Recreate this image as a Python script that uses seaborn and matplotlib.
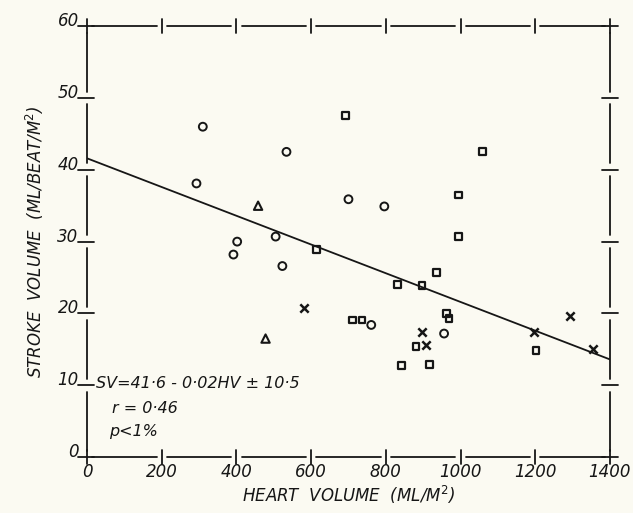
import matplotlib
matplotlib.use("Agg")
import matplotlib.pyplot as plt
import matplotlib.transforms as mtransforms
import seaborn as sns
import numpy as np
import pandas as pd

# ---- data ----
circle_x = [310, 534, 293, 700, 796, 505, 402, 392, 523, 761, 956]
circle_y = [46.0, 42.5, 38.1, 35.9, 34.9, 30.7, 30.0, 28.2, 26.6, 18.4, 17.2]
square_x = [693, 614, 832, 710, 736, 1058, 995, 995, 935, 897, 962, 969, 881, 841, 917, 1202]
square_y = [47.6, 28.9, 24.0, 19.1, 19.1, 42.6, 36.5, 30.7, 25.7, 23.9, 20.0, 19.3, 15.4, 12.8, 12.9, 14.8]
triangle_x = [458, 478]
triangle_y = [35.0, 16.5]
cross_x = [580, 897, 908, 1197, 1293, 1354]
cross_y = [20.7, 17.4, 15.6, 17.4, 19.6, 15.1]

intercept = 41.6
slope = -0.02
line_x = [0, 1400]

x_ticks = [0, 200, 400, 600, 800, 1000, 1200, 1400]
y_ticks = [0, 10, 20, 30, 40, 50, 60]
x_ticklabels = ["0", "200", "400", "600", "800", "1000", "1200", "1400"]
y_ticklabels = ["0", "10", "20", "30", "40", "50", "60"]

bg = "#fbfaf2"
ink = "#161616"

sns.set_theme(style="white")
plt.rcParams["font.family"] = ["DejaVu Sans"]

fig = plt.figure(figsize=(6.33, 5.13), dpi=100, facecolor=bg)
ax = fig.add_axes([0.1375, 0.109, 0.826, 0.84], facecolor=bg)

kw = dict(ax=ax, legend=False, zorder=3)
sns.scatterplot(data=pd.DataFrame({"x": circle_x, "y": circle_y}), x="x", y="y",
                marker="o", s=32, facecolors="none", edgecolor=ink, linewidth=1.4, **kw)
sns.scatterplot(data=pd.DataFrame({"x": square_x, "y": square_y}), x="x", y="y",
                marker="s", s=24, facecolors="none", edgecolor=ink, linewidth=1.6, **kw)
sns.scatterplot(data=pd.DataFrame({"x": triangle_x, "y": triangle_y}), x="x", y="y",
                marker="^", s=36, facecolors="none", edgecolor=ink, linewidth=1.5, **kw)
sns.scatterplot(data=pd.DataFrame({"x": cross_x, "y": cross_y}), x="x", y="y",
                marker="x", s=36, linewidth=1.8, color=ink, **kw)

lx = np.array(line_x, dtype=float)
sns.lineplot(x=lx, y=intercept + slope * lx, ax=ax, color=ink, linewidth=1.3, zorder=2)

ax.set_xlim(0, 1400)
ax.set_ylim(0, 60)
for s in ax.spines.values():
    s.set_visible(False)
ax.set_xticks(x_ticks)
ax.set_yticks(y_ticks)
ax.tick_params(axis="x", length=0, pad=4)
ax.tick_params(axis="y", length=0, pad=6)
ax.set_xticklabels(x_ticklabels, fontsize=12, style="italic", color=ink)
ax.set_yticklabels(y_ticklabels, fontsize=12, style="italic", color=ink)
shift = mtransforms.ScaledTranslation(0, 5 / 72, fig.dpi_scale_trans)
for lab in ax.get_yticklabels():
    lab.set_transform(lab.get_transform() + shift)

# frame drawn as segments between ticks with small gaps, plus tick marks
gx = 14
gy = 0.9
for i in range(len(x_ticks) - 1):
    a, b = x_ticks[i] + gx, x_ticks[i + 1] - gx
    ax.plot([a, b], [0, 0], color=ink, lw=1.3, clip_on=False)
    ax.plot([a, b], [60, 60], color=ink, lw=1.3, clip_on=False)
for i in range(len(y_ticks) - 1):
    a, b = y_ticks[i] + gy, y_ticks[i + 1] - gy
    ax.plot([0, 0], [a, b], color=ink, lw=1.3, clip_on=False)
    ax.plot([1400, 1400], [a, b], color=ink, lw=1.3, clip_on=False)
for t in x_ticks:
    ax.plot([t, t], [-1.0, 1.0], color=ink, lw=1.3, clip_on=False)
    ax.plot([t, t], [59.0, 61.0], color=ink, lw=1.3, clip_on=False)
for t in y_ticks:
    ax.plot([-24, 18], [t, t], color=ink, lw=1.3, clip_on=False)
    ax.plot([1378, 1422], [t, t], color=ink, lw=1.3, clip_on=False)

ax.set_xlabel("HEART  VOLUME  (ML/M$^2$)", fontsize=12, style="italic", color=ink, labelpad=2)
ax.set_ylabel("STROKE  VOLUME  (ML/BEAT/M$^2$)", fontsize=12, style="italic", color=ink, labelpad=8)

ax.text(25, 10.3, "SV=41·6 - 0·02HV ± 10·5", fontsize=11.5, style="italic", color=ink, va="center")
ax.text(68, 6.8, "r = 0·46", fontsize=11.5, style="italic", color=ink, va="center")
ax.text(60, 3.5, "p<1%", fontsize=11.5, style="italic", color=ink, va="center")

fig.savefig("out.png", dpi=100, facecolor=bg)
